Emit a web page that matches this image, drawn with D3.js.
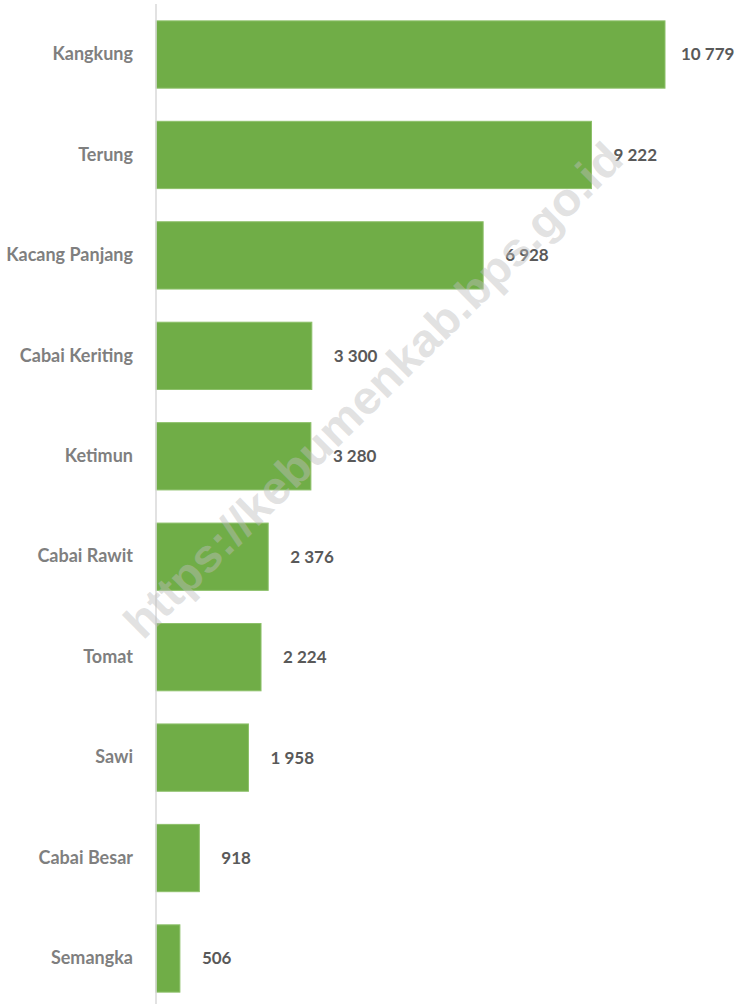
<!DOCTYPE html>
<html>
<head>
<meta charset="utf-8">
<script src="https://cdn.jsdelivr.net/npm/d3@7"></script>
<style>
  html, body { margin: 0; padding: 0; background: #fff; }
  svg { display: block; }
</style>
</head>
<body>
<script>
const categories = ["Kangkung", "Terung", "Kacang Panjang", "Cabai Keriting", "Ketimun", "Cabai Rawit", "Tomat", "Sawi", "Cabai Besar", "Semangka"];
const values = [10779, 9222, 6928, 3300, 3280, 2376, 2224, 1958, 918, 506];
const valueLabels = ["10 779", "9 222", "6 928", "3 300", "3 280", "2 376", "2 224", "1 958", "918", "506"];
const watermark = "https://kebumenkab.bps.go.id";

const W = 739, H = 1004;
const data = categories.map((c, i) => ({ cat: c, val: values[i], label: valueLabels[i] }));

const svg = d3.select("body").append("svg").attr("width", W).attr("height", H);

const x0 = 156;
const x = d3.scaleLinear().domain([0, 10779]).range([x0, 665]);
const y = d3.scaleBand().domain(categories).range([4.3, 1008.7]).paddingInner(0.33).paddingOuter(0.165);

// bars
svg.append("g").selectAll("rect").data(data).join("rect")
  .attr("x", x0)
  .attr("y", d => y(d.cat))
  .attr("width", d => x(d.val) - x0)
  .attr("height", y.bandwidth())
  .attr("fill", "#70AD47")
  .attr("stroke", "#8DC06A")
  .attr("stroke-width", 1);

// axis line
svg.append("line").attr("x1", x0).attr("x2", x0).attr("y1", 4).attr("y2", H)
  .attr("stroke", "#D9D9D9").attr("stroke-width", 1.5);

// category labels
const yAxis = d3.axisLeft(y).tickSize(0).tickPadding(23);
const ga = svg.append("g").attr("transform", `translate(${x0},0)`).call(yAxis);
ga.select(".domain").remove();
ga.selectAll("text")
  .attr("font-family", "Lato, 'Open Sans', sans-serif")
  .attr("font-weight", "bold")
  .attr("font-size", "18px")
  .attr("fill", "#7F7F7F");

// value labels
svg.append("g").selectAll("text").data(data).join("text")
  .attr("x", d => Math.min(x(d.val) + 22, 681))
  .attr("y", d => y(d.cat) + y.bandwidth() / 2)
  .attr("dy", "0.35em")
  .attr("font-family", "Lato, 'Open Sans', sans-serif")
  .attr("font-weight", "bold")
  .attr("font-size", "17px")
  .attr("fill", "#595959")
  .text(d => d.label);

// watermark
svg.append("text")
  .attr("transform", "translate(373,390) rotate(-44.8)")
  .attr("text-anchor", "middle")
  .attr("dominant-baseline", "central")
  .attr("font-family", "'Liberation Sans', Arial, sans-serif")
  .attr("font-weight", "bold")
  .attr("font-size", "46px")
  .attr("fill", "rgba(190,190,190,0.45)")
  .attr("textLength", 680)
  .attr("lengthAdjust", "spacingAndGlyphs")
  .text(watermark);
</script>
</body>
</html>
